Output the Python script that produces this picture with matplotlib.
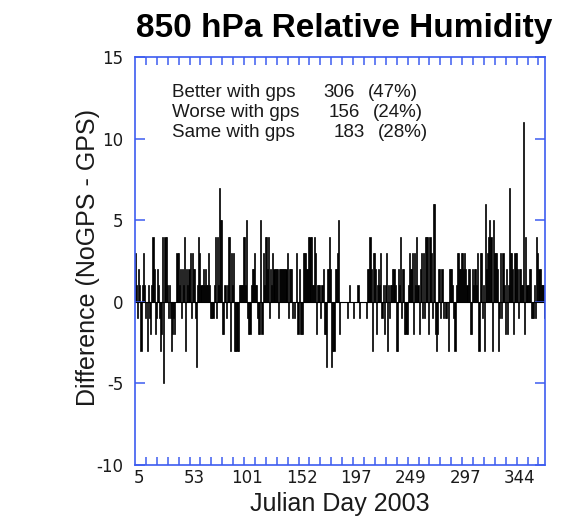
# 850 hPa relative humidity differences (NoGPS - GPS) by day
import numpy as np
import matplotlib
matplotlib.use('Agg')
import matplotlib.pyplot as plt

plt.rcParams['font.family'] = ['Liberation Sans', 'DejaVu Sans']
plt.rcParams['axes.unicode_minus'] = False

# difference per sample, read left to right off the chart
diff_a = [3, 1, -1, 2, 1, -3, 1, 3, 1, -1, 0, -3, 1, -1, -2, 1, 4, 2, -2, -1,
          2, 1, -1, -3, -2, 4, -5, 4, 4, 1, -1, 1, -1, -3, -2, -1, -2, 0, 3, 3,
          1, 2, -1, 2, 1, 4, -3, 2, 1, 2, 3, -1, 3, 2]
diff_b = [2, -1, -4, 1, 4, 3, 1, 1, 2, 1, 2, 1, 1, 3, 1, -1, -1, -1, 1, 4,
          -1, 4, 1, 7, 5, 5, -2, -2, 1, -1, 1, 4, 4, -3, 3, 1, 3, -3, -3, -3,
          -3, 1, 1, 1, 1, 4, 4, 1, 5, -1, -2, -2, 1, 2, 2]
diff_c = [3, 1, 1, -1, -2, -2, 5, -2, 3, 1, 4, 4, 2, 4, -1, 2, 1, 3, 2, 2,
          2, 2, -1, 2, 2, 2, 2, 2, 2, 2, 3, -1, 2, 2, 2, -1, 0, -1, 0, 3,
          -2, 2, -2, -2, -2, 3, 3, 3, 2, 2, 4, 4, 4, 1, 1]
diff_d = [4, 3, -2, 1, 1, 1, -1, 1, 2, -2, -2, -4, 2, 2, 4, 2, -4, -3, -3, 2,
          2, 3, 5, -2, 0, 0, 0, 0, 0, 0, -1, 0, 1, 0, 0, 0, -1, 0, 0, 0,
          1, -1, 0, 0, 0, 0, 0, 0, -1, 2, 2, 4, 2, -3, 3]
diff_e = [3, 2, -2, 1, 2, 1, 3, -1, 1, -2, 1, 3, -3, 1, -1, 1, 1, 2, 2, 1,
          -3, -3, 2, 1, 4, -1, 2, 2, -2, -2, -2, 1, 3, 2, 2, 3, -2, 3, 1, 4,
          1, -2, 2, 3, -1, 3, -1, 4, 4, 4, -2, 4, 3, -1, 6]
diff_f = [6, -2, -3, -2, 2, 2, -1, 2, -1, 0, -1, -1, 0, -3, 2, 2, 2, 1, -1, -3,
          1, 3, 3, 2, 2, 3, 3, 2, 3, 2, 1, 2, 2, -2, -2, 2, 1, 2, 2, 1,
          3, -3, 3, 3, -1, 1, -3, 6, 2, 3, 4, 5, 4, -3, 5]
diff_g = [3, 3, 3, 2, -3, -1, 3, -1, 3, 1, -2, 2, -2, 1, 7, 3, 3, 2, -2, 3,
          3, 2, -1, 2, 2, 1, 1, 11, -2, 4, 1, 1, 2, 2, -1, -1, -1, 1, -1, 4,
          3, 2, 2, 1, 1, 1, -1]
diff = diff_a + diff_b + diff_c + diff_d + diff_e + diff_f + diff_g

tick_pos = [4, 54, 103, 153, 203, 253, 303, 353]
tick_days = ['5', '53', '101', '152', '197', '249', '297', '344']

stat_names = ['Better with gps', 'Worse with gps', 'Same with gps']
stat_counts = ['306', '156', '183']
stat_pcts = ['(47%)', '(24%)', '(28%)']

blue = '#3d5cf0'
ink = '#1a1a1a'

fig = plt.figure(figsize=(5.65, 5.16), dpi=100)
ax = fig.add_axes([135/565, 1 - 465/516, 410/565, 408/516])

x = np.arange(len(diff)) + 0.5
ax.bar(x, diff, width=1.0, color='black', edgecolor='black', linewidth=0.5)
ax.axhline(0, color='black', lw=0.8)
ax.set_xlim(0, 376)
ax.set_ylim(-10, 15)

for s in ax.spines.values():
    s.set_color(blue)
    s.set_linewidth(1.2)

ax.set_yticks([-10, -5, 0, 5, 10, 15])
ax.tick_params(axis='y', which='major', direction='in', length=7, width=1.1,
               color=blue, left=True, right=True, labelsize=12, pad=8.5,
               labelcolor=ink)
ax.set_xticks(tick_pos)
ax.set_xticklabels(tick_days)
ax.set_xticks(np.arange(10, 376, 10), minor=True)
ax.tick_params(axis='x', which='major', length=0, pad=3, labelsize=12,
               labelcolor=ink)
ax.tick_params(axis='x', which='minor', direction='in', length=6, width=1.1,
               color=blue, top=True, bottom=True)
for lab in ax.get_xticklabels() + ax.get_yticklabels():
    lab.set_fontfamily('DejaVu Sans')

fig.text(344/565, 1 - 37/516, '850 hPa Relative Humidity', ha='center',
         va='baseline', fontsize=24, fontweight='bold', color='black')
fig.text(340/565, 1 - 511/516, 'Julian Day 2003', ha='center',
         va='baseline', fontsize=18, color=ink)
fig.text(88/565, 1 - 258/516, 'Difference (NoGPS - GPS)', ha='center',
         va='center', rotation=90, fontsize=18, color=ink)

# stats block
base_y = [96.7, 116.7, 136.7]
num_right = [355, 360, 365]
pct_left = [368, 373, 378]
for i in range(3):
    yy = 1 - base_y[i]/516
    fig.text(172/565, yy, stat_names[i], ha='left', va='baseline',
             fontsize=13.5, color=ink)
    fig.text(num_right[i]/565, yy, stat_counts[i], ha='right', va='baseline',
             fontsize=13.5, color=ink)
    fig.text(pct_left[i]/565, yy, stat_pcts[i], ha='left', va='baseline',
             fontsize=13.5, color=ink)

fig.savefig('out.png', dpi=100)
